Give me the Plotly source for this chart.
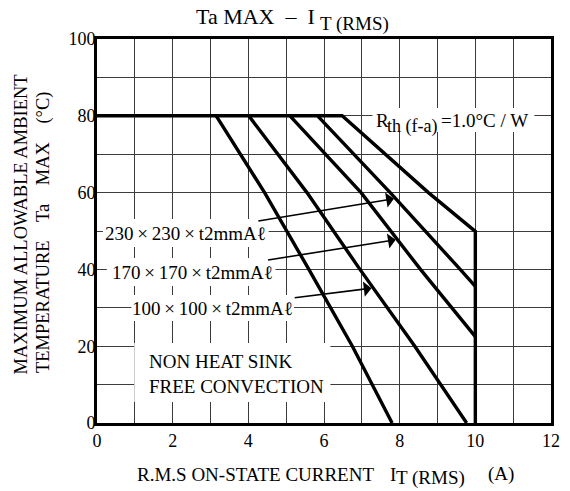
import numpy as np
import plotly.graph_objects as go

# ---------------- data ----------------
x_tick_vals = [0, 2, 4, 6, 8, 10, 12]
y_tick_vals = [0, 20, 40, 60, 80, 100]

# NON HEAT SINK, FREE CONVECTION
nhs_I = [3.15, 4.43, 5.60, 6.75, 7.80]
nhs_T = [80, 60, 40, 20, 0]
# 100x100xt2mm Al
s100_I = [4.01, 5.55, 6.95, 8.40, 9.77]
s100_T = [80, 60, 40, 20, 0]
# 170x170xt2mm Al
s170_I = [5.10, 6.98, 8.55, 10.0]
s170_T = [80, 60, 40, 22.5]
# 230x230xt2mm Al
s230_I = [5.83, 7.75, 9.60, 10.0]
s230_T = [80, 60, 40, 35.6]
# Rth(f-a) = 1.0 C/W  (includes the 80 C plateau and the 10 A cut-off)
rth_I = [0, 6.48, 8.76, 10.0, 10.0]
rth_T = [80, 80, 60, 49.9, 0]

# ---------------- layout helpers ----------------
W, H = 570, 491
L, R, T, B = 97, 10, 39, 68
PW, PH = W - L - R, H - T - B
FONT = "Liberation Serif, Times New Roman, serif"


def px_x(px):
    return (px - L) / PW


def px_y(py):
    return (H - B - py) / PH


def cur_at(Ts, Is, t):
    return float(np.interp(t, Ts[::-1], Is[::-1]))


fig = go.Figure()
for xs, ys in [(nhs_I, nhs_T), (s100_I, s100_T), (s170_I, s170_T),
               (s230_I, s230_T), (rth_I, rth_T)]:
    fig.add_trace(go.Scatter(x=xs, y=ys, mode="lines",
                             line=dict(color="black", width=3.4),
                             hoverinfo="skip"))

grid_col = "#3c3c3c"
fig.update_xaxes(range=[0, 12], tickvals=x_tick_vals,
                 ticktext=[str(v) for v in x_tick_vals],
                 showgrid=True, gridcolor=grid_col, gridwidth=1.2,
                 minor=dict(tickmode="linear", tick0=0, dtick=1, showgrid=True,
                            gridcolor=grid_col, gridwidth=1.2),
                 showline=True, mirror=True, linecolor="black", linewidth=2.6,
                 ticks="", zeroline=False, ticklabeloverflow="allow",
                 tickfont=dict(family=FONT, size=18, color="black"))
fig.update_yaxes(range=[0, 100], tickvals=y_tick_vals,
                 ticktext=[str(v) for v in y_tick_vals],
                 showgrid=True, gridcolor=grid_col, gridwidth=1.2,
                 minor=dict(tickmode="linear", tick0=0, dtick=10, showgrid=True,
                            gridcolor=grid_col, gridwidth=1.2),
                 showline=True, mirror=True, linecolor="black", linewidth=2.6,
                 ticks="", zeroline=False, ticklabelstandoff=-5,
                 ticklabeloverflow="allow",
                 tickfont=dict(family=FONT, size=18, color="black"))

# white label backgrounds (pixel boxes)
boxes = [
    (378, 108, 543, 132),   # Rth label
    (103, 219, 272, 247),   # 230 label
    (107, 258, 279, 286),   # 170 label
    (132, 295, 298, 321),   # 100 label
    (135, 343, 335, 402),   # NON HEAT SINK block
]
shapes = []
for x0, y0, x1, y1 in boxes:
    shapes.append(dict(type="rect", xref="paper", yref="paper",
                       x0=px_x(x0), x1=px_x(x1), y0=px_y(y1), y1=px_y(y0),
                       fillcolor="white", line=dict(width=0), layer="above"))

ann = []


def txt(text, px, py, size=19, xanchor="left", angle=0):
    ann.append(dict(text=text, xref="paper", yref="paper",
                    x=px_x(px), y=px_y(py), xanchor=xanchor, yanchor="middle",
                    showarrow=False, textangle=angle,
                    font=dict(family=FONT, size=size, color="black")))


NB = "\u00a0"
# title
txt("Ta MAX" + NB + " \u2013" + NB + " I", 321, 17, size=22, xanchor="right")
txt("T (RMS)", 322, 24, size=19)
# x axis title
txt("R.M.S ON-STATE CURRENT", 136, 474, size=19)
txt("I", 394, 474, size=19)
txt("T (RMS)", 400, 478, size=19)
txt("(A)", 494, 474, size=19)
# y axis title (two rotated lines)
txt("MAXIMUM ALLOWABLE AMBIENT", 20, 224, size=18.5, xanchor="center", angle=-90)
txt("TEMPERATURE" + NB * 4 + "Ta" + NB * 4 + "MAX" + NB * 4 + "(\u00b0C)",
    42, 232, size=18.5, xanchor="center", angle=-90)

# Rth label
txt("R", 379, 121, size=19)
txt("th (f-a)", 391, 127, size=18)
txt("=1.0\u00b0C / W", 446, 121, size=19)

# NON HEAT SINK
txt("NON HEAT SINK", 148, 361, size=19)
txt("FREE CONVECTION", 148, 386, size=19)

# heatsink labels with arrows
labels = [
    ("230\u2009\u00d7\u2009230\u2009\u00d7\u2009t2mmA\u2113", 187, 233, s230_T, s230_I, 58.4),
    ("170\u2009\u00d7\u2009170\u2009\u00d7\u2009t2mmA\u2113", 194, 272, s170_T, s170_I, 47.7),
    ("100\u2009\u00d7\u2009100\u2009\u00d7\u2009t2mmA\u2113", 215, 308, s100_T, s100_I, 35.1),
]
for text, cx, cy, Ts, Is, t_head in labels:
    hx = cur_at(Ts, Is, t_head) - 0.05
    ann.append(dict(text=text, xref="x", yref="y", axref="x", ayref="y",
                    x=hx, y=t_head,
                    ax=(cx - L) / PW * 12, ay=(H - B - cy) / PH * 100,
                    showarrow=True, arrowhead=1, arrowsize=1.6, arrowwidth=1.6,
                    arrowcolor="black", standoff=0,
                    font=dict(family=FONT, size=19, color="black")))

fig.update_layout(width=W, height=H, margin=dict(l=L, r=R, t=T, b=B),
                  plot_bgcolor="white", paper_bgcolor="white",
                  showlegend=False, shapes=shapes, annotations=ann)

fig.write_html("out.html", config={"displayModeBar": False},
               post_script="document.body.style.margin='0px';"
                           "document.body.style.padding='0px';")
